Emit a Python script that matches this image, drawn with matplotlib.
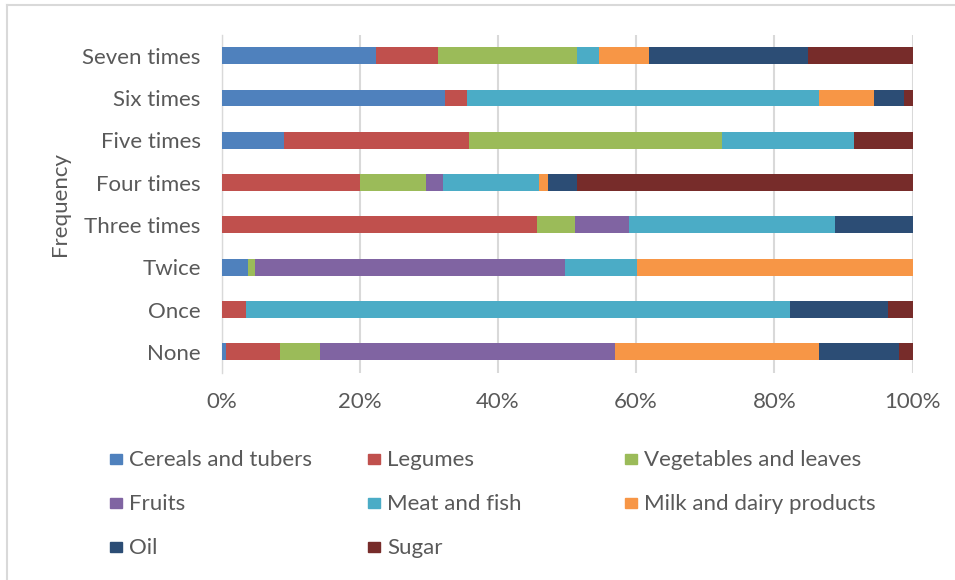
import matplotlib
matplotlib.use("Agg")
import matplotlib.pyplot as plt
from matplotlib.patches import Rectangle
from matplotlib.lines import Line2D
import numpy as np

categories = ["None", "Once", "Twice", "Three times", "Four times",
              "Five times", "Six times", "Seven times"]
series_names = ["Cereals and tubers", "Legumes", "Vegetables and leaves",
                "Fruits", "Meat and fish", "Milk and dairy products",
                "Oil", "Sugar"]
# values in percent, ordered as categories
cereals = [0.7, 0.0, 3.9, 0.0, 0.0, 9.0, 32.4, 22.3]
legumes = [7.8, 3.5, 0.0, 45.6, 20.0, 26.8, 3.2, 9.0]
vegetables = [5.8, 0.0, 0.9, 5.6, 9.6, 36.7, 0.0, 20.2]
fruits = [42.6, 0.0, 44.9, 7.8, 2.5, 0.0, 0.0, 0.0]
meat = [0.0, 78.7, 10.4, 29.8, 13.9, 19.1, 50.9, 3.2]
milk = [29.5, 0.0, 39.9, 0.0, 1.3, 0.0, 7.9, 7.1]
oil = [11.7, 14.3, 0.0, 11.2, 4.2, 0.0, 4.3, 23.1]
sugar = [1.9, 3.5, 0.0, 0.0, 48.5, 8.4, 1.3, 15.1]
xticklabels = ["0%", "20%", "40%", "60%", "80%", "100%"]

colors = ["#4F81BD", "#C0504D", "#9BBB59", "#8064A2",
          "#4BACC6", "#F79646", "#2C4D75", "#772C2A"]

data = np.array([cereals, legumes, vegetables, fruits, meat, milk, oil, sugar])
totals = data.sum(axis=0)
shares = data / totals  # normalize to 100%

plt.rcParams['font.family'] = ['Lato', 'DejaVu Sans']
txt = "#595959"
fs = 16
W, H = 955, 580
fig = plt.figure(figsize=(W / 100, H / 100), dpi=100)

ax = fig.add_axes([221.5 / W, 1 - 373 / H, 691 / W, (373 - 34.5) / H])
y = np.arange(len(categories))
left = np.zeros(len(categories))
for i, name in enumerate(series_names):
    ax.barh(y, shares[i], left=left, height=0.4, color=colors[i],
            edgecolor="none", label=name, zorder=3)
    left += shares[i]

ax.set_xlim(0, 1)
ax.set_ylim(-0.5, len(categories) - 0.5)
ax.set_xticks(np.linspace(0, 1, len(xticklabels)))
ax.set_xticklabels(xticklabels)
ax.set_yticks(y)
ax.set_yticklabels(categories)
ax.grid(axis="x", color="#D9D9D9", linewidth=1.5, zorder=0)
for s in ["top", "right", "bottom"]:
    ax.spines[s].set_visible(False)
ax.spines["left"].set_color("#D9D9D9")
ax.spines["left"].set_linewidth(1.0)
ax.tick_params(axis="both", length=0, colors=txt, labelsize=fs)
ax.tick_params(axis="x", pad=14)
ax.tick_params(axis="y", pad=15)
ax.set_ylabel("Frequency", color=txt, fontsize=fs)
ax.yaxis.set_label_coords(-(221.5 - 60) / 691, 0.5)
ax.yaxis.label.set_va("center")

# legend (row-major like the original)
col_x = [110, 368, 625]
row_y = [459, 503, 547]
for i, name in enumerate(series_names):
    r, c = divmod(i, 3)
    x0, y0 = col_x[c], row_y[r]
    fig.add_artist(Rectangle((x0 / W, 1 - (y0 + 5) / H), 12 / W, 10 / H,
                             transform=fig.transFigure, color=colors[i]))
    fig.text((x0 + 19) / W, 1 - (y0 + 1) / H, name, color=txt, fontsize=fs,
             va="center", ha="left")

# chart border
fig.add_artist(Line2D([7 / W, 1], [1 - 4.5 / H, 1 - 4.5 / H],
                      transform=fig.transFigure, color="#D9D9D9", lw=1.5))
fig.add_artist(Line2D([7 / W, 7 / W], [0, 1 - 4.5 / H],
                      transform=fig.transFigure, color="#D9D9D9", lw=1.5))

fig.savefig("out.png", dpi=100, facecolor="white")
